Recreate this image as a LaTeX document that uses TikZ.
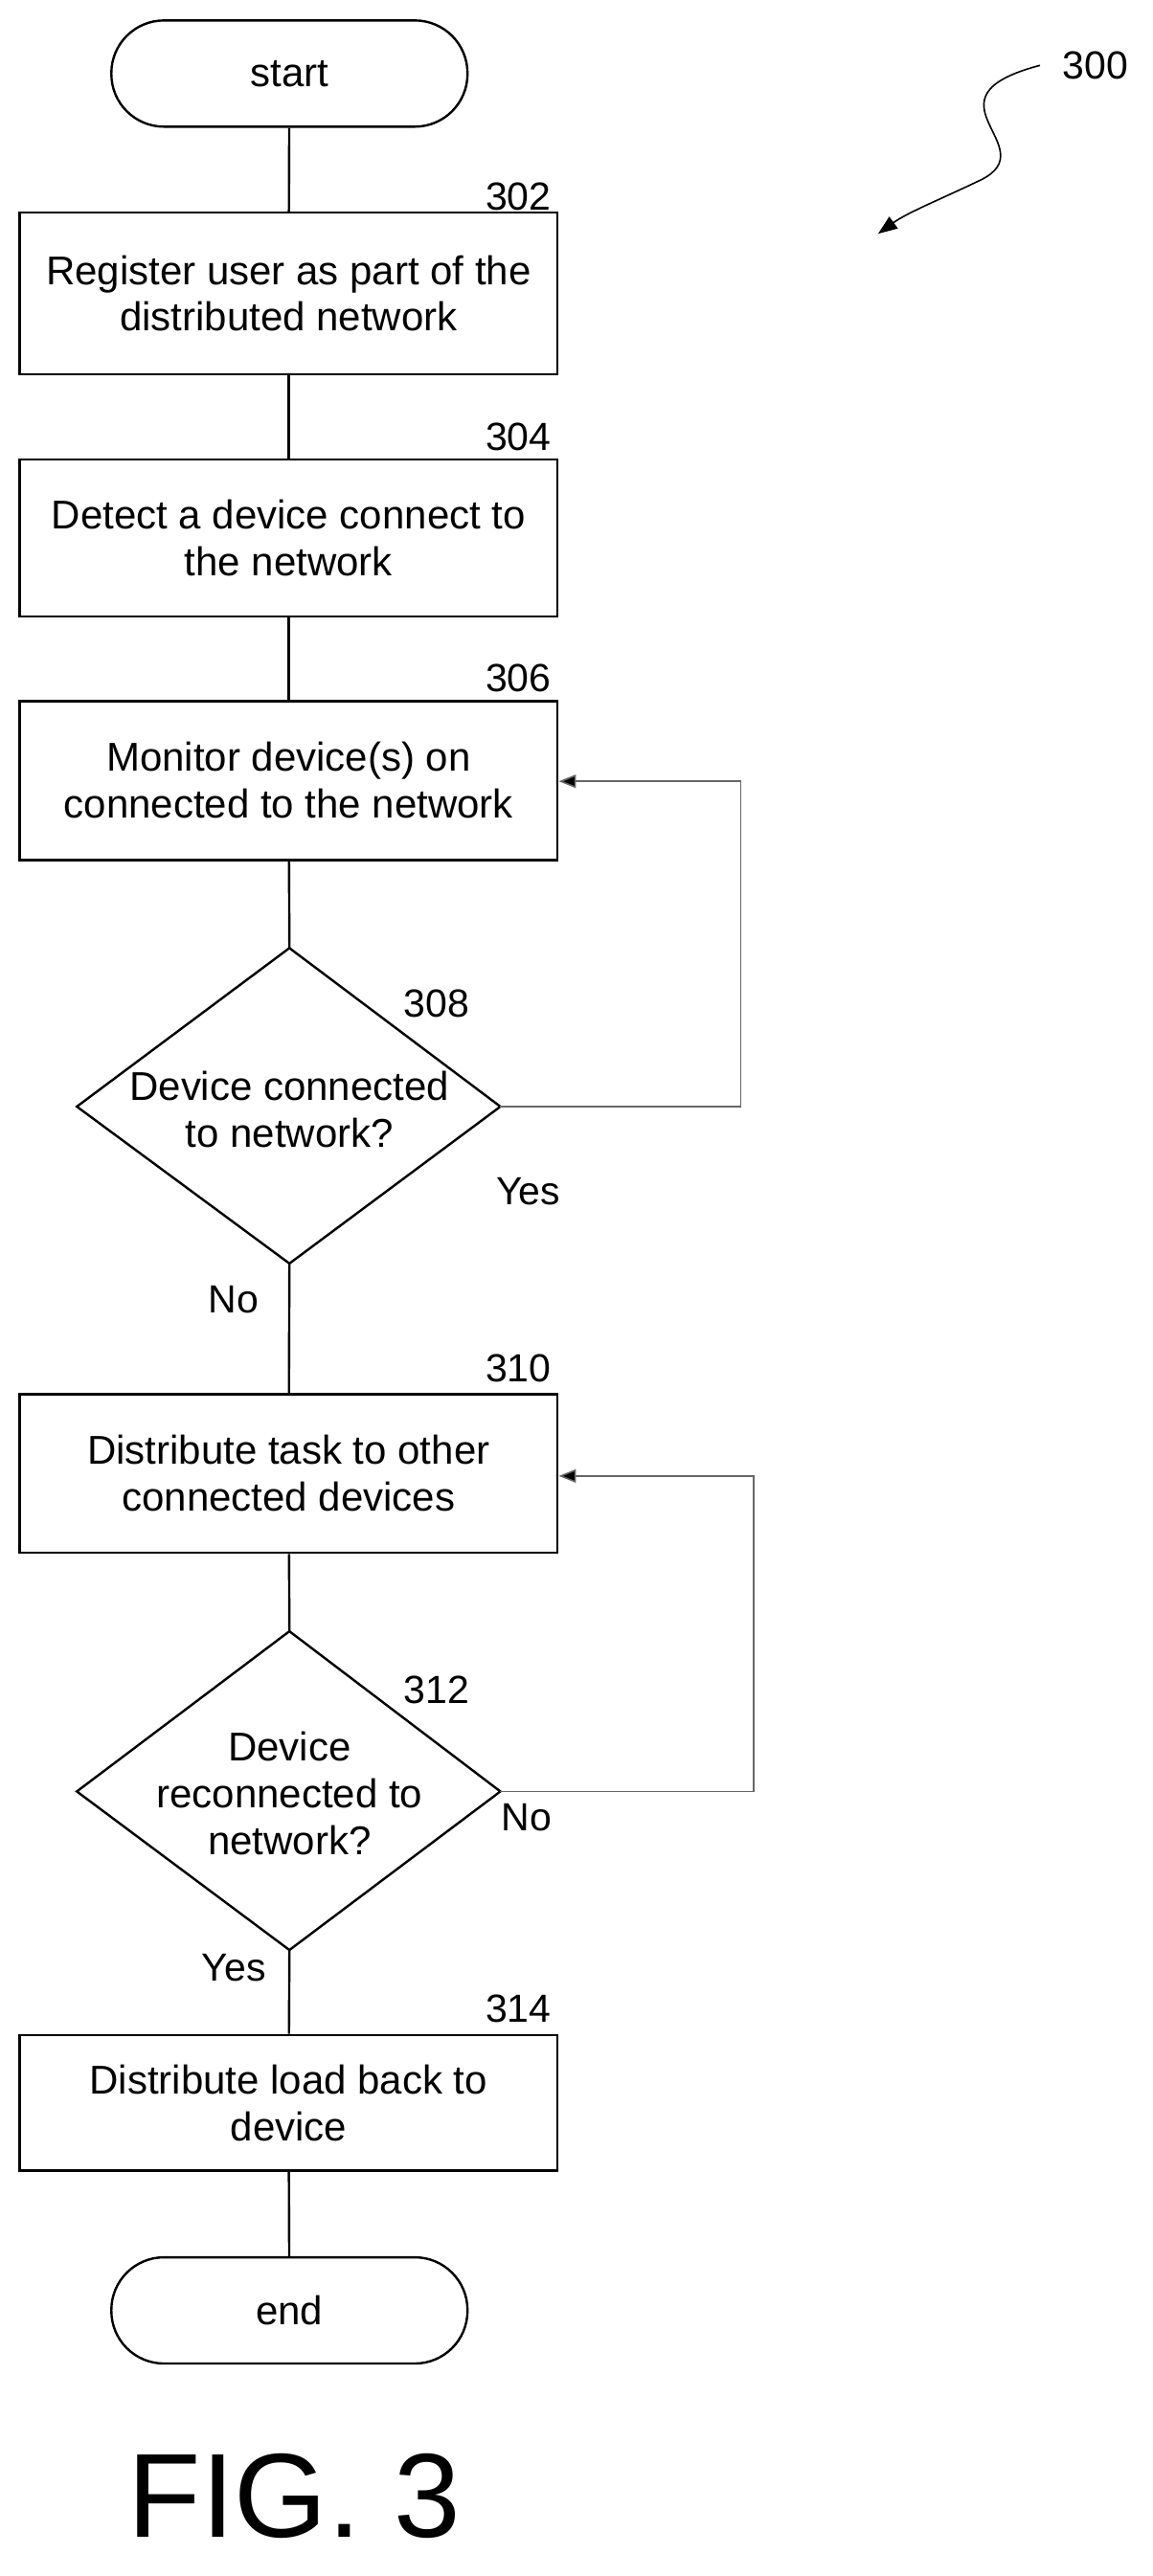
\documentclass[tikz,border=0pt]{standalone}
\usepackage{fontspec}
\setmainfont{Liberation Sans}
\usetikzlibrary{arrows.meta}
\begin{document}
\begin{tikzpicture}[x=1.708pt,y=-1.708pt,
  txt/.style={font=\fontsize{42}{49}\selectfont,align=center},
  box/.style={draw,line width=2.4pt,minimum width=562pt,txt,inner sep=0pt},
  term/.style={draw,line width=2.4pt,rounded corners=55pt,minimum width=372pt,minimum height=111pt,txt},
  lbl/.style={font=\fontsize{41}{48}\selectfont},
  ln/.style={line width=2.4pt},
  loop/.style={line width=1.6pt,draw=black!60,-{Triangle[length=18pt,width=14pt,fill=black]}}]
\useasboundingbox (0,0) rectangle (705,1576);
\node[term] (start) at (177,45) {start};
\node[box,minimum height=169pt] (b302) at (176.5,179.5) {Register user as part of the\\distributed network};
\node[box,minimum height=164pt] (b304) at (176.5,329) {Detect a device connect to\\the network};
\node[box,minimum height=166pt] (b306) at (176.5,477.5) {Monitor device(s) on\\connected to the network};
\node[box,minimum height=166pt] (b310) at (176.5,901.5) {Distribute task to other\\connected devices};
\node[box,minimum height=142pt] (b314) at (176.5,1286.5) {Distribute load back to\\device};
\node[term] (end) at (177,1413.5) {end};
% diamonds
\coordinate (d1t) at (177,580); \coordinate (d1b) at (177,773);
\coordinate (d1l) at (47,677); \coordinate (d1r) at (306,677);
\draw[ln] (d1t) -- (d1r) -- (d1b) -- (d1l) -- cycle;
\node[txt] (d308) at (177,679) {Device connected\\to network?};
\coordinate (d2t) at (177,998); \coordinate (d2b) at (177,1193);
\coordinate (d2l) at (47,1096); \coordinate (d2r) at (306,1096);
\draw[ln] (d2t) -- (d2r) -- (d2b) -- (d2l) -- cycle;
\node[txt] (d312) at (177,1097) {Device\\reconnected to\\network?};
% labels
\node[lbl] (l302) at (317,120) {302};
\node[lbl] (l304) at (317,267) {304};
\node[lbl] (l306) at (317,415) {306};
\node[lbl] (l308) at (267,614) {308};
\node[lbl] (l310) at (317,837) {310};
\node[lbl] (l312) at (267,1034) {312};
\node[lbl] (l314) at (317,1229) {314};
\node[lbl] (yes1) at (323,729) {Yes};
\node[lbl] (no1) at (143,795) {No};
\node[lbl] (no2) at (322,1112) {No};
\node[lbl] (yes2) at (143,1204) {Yes};
\node[lbl] (l300) at (670,40) {300};
\node[font=\fontsize{125}{135}\selectfont] (fig) at (180,1527) {FIG. 3};
% connectors
\draw[ln] (start) -- (b302);
\draw[ln] (b302) -- (b304);
\draw[ln] (b304) -- (b306);
\draw[ln] (b306) -- (d1t);
\draw[ln] (d1b) -- (b310);
\draw[ln] (b310) -- (d2t);
\draw[ln] (d2b) -- (b314);
\draw[ln] (b314) -- (end);
\draw[loop] (d1r) -- (453,677) -- (453,478) -- (b306.east |- 0,478);
\draw[loop] (d2r) -- (461,1096) -- (461,903) -- (b310.east |- 0,903);
\coordinate (s0) at (636,40);
\draw[line width=1.6pt,-{Triangle[length=20pt,width=15pt]}] (s0) .. controls (560,60) and (640,90) .. (600,110) .. controls (575,122) and (555,130) .. (537,143);
\end{tikzpicture}
\end{document}
